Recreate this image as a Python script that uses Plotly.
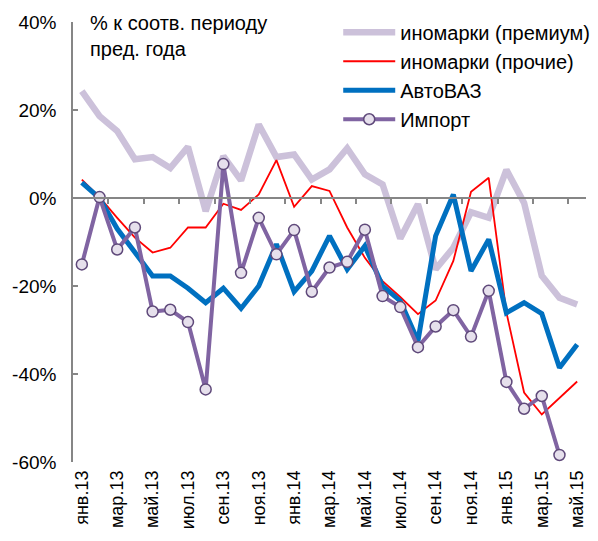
import plotly.graph_objects as go

# Monthly labels, Jan 2013 .. May 2015
months = [
    "янв.13", "фев.13", "мар.13", "апр.13", "май.13", "июн.13", "июл.13",
    "авг.13", "сен.13", "окт.13", "ноя.13", "дек.13",
    "янв.14", "фев.14", "мар.14", "апр.14", "май.14", "июн.14", "июл.14",
    "авг.14", "сен.14", "окт.14", "ноя.14", "дек.14",
    "янв.15", "фев.15", "мар.15", "апр.15", "май.15",
]

# % to the same period of previous year
premium = [24.3, 18.6, 15.2, 8.8, 9.3, 6.8, 11.6, -3.0, 9.5, 4.0, 16.7, 9.3,
           9.9, 4.2, 6.5, 11.3, 5.4, 3.1, -9.2, -1.4, -16.2, -11.3, -3.2,
           -4.5, 6.4, -1.1, -17.7, -22.7, -24.2]
other = [4.2, 0.2, -4.5, -9.0, -12.4, -11.3, -6.7, -6.7, -1.3, -2.7, 0.8, 8.6,
         -2.0, 2.7, 1.6, -6.7, -13.6, -18.9, -22.5, -26.4, -23.3, -14.3, 1.4,
         4.6, -26.0, -44.2, -49.2, -45.5, -41.7]
avtovaz = [3.5, 0.0, -7.0, -12.5, -17.7, -17.7, -20.5, -23.8, -20.5, -25.1,
           -20.0, -10.5, -21.3, -16.6, -8.6, -16.2, -10.9, -20.0, -23.4, -32.5,
           -8.6, 0.8, -16.6, -9.4, -26.1, -23.8, -26.3, -38.6, -33.3]
imports = [-15.1, 0.2, -11.7, -6.7, -25.8, -25.4, -28.2, -43.5, 7.7, -17.0,
           -4.5, -12.8, -7.3, -21.3, -15.8, -14.5, -7.2, -22.3, -24.8, -33.9,
           -29.2, -25.5, -31.5, -21.1, -41.8, -47.9, -45.0, -58.4, None]

y_ticks = [-60, -40, -20, 0, 20, 40]
y_labels = ["-60%", "-40%", "-20%", "0%", "20%", "40%"]

x = list(range(len(months)))
font = "Arial, Liberation Sans, sans-serif"
axis_grey = "#868686"

fig = go.Figure()
fig.add_trace(go.Scatter(
    x=x, y=premium, name="иномарки (премиум)", mode="lines",
    line=dict(color="#CCC1DA", width=6.5), legendgroup="a"))
fig.add_trace(go.Scatter(
    x=x, y=other, name="иномарки (прочие)", mode="lines",
    line=dict(color="#FF0000", width=1.8), legendgroup="b"))
fig.add_trace(go.Scatter(
    x=x, y=avtovaz, name="АвтоВАЗ", mode="lines",
    line=dict(color="#0070C0", width=5), legendgroup="c"))
fig.add_trace(go.Scatter(
    x=x, y=imports, name="Импорт", mode="lines+markers",
    line=dict(color="#8064A2", width=4),
    marker=dict(size=11, color="#E6E0EC",
                line=dict(color="#5F497A", width=1.5)),
    legendgroup="d"))

# the page body adds an 8px margin, so the figure is 8px smaller
fig.update_layout(
    width=590, height=533,
    margin=dict(l=65, r=3, t=14, b=79),
    paper_bgcolor="white", plot_bgcolor="white",
    font=dict(family=font, size=19, color="black"),
    showlegend=True,
    legend=dict(
        x=0.517, y=1.021, xanchor="left", yanchor="top",
        bgcolor="rgba(0,0,0,0)", traceorder="grouped", tracegroupgap=0,
        font=dict(size=20), itemwidth=52,
    ),
    xaxis=dict(
        range=[-0.5, 28.5], tickvals=x[::2], ticktext=months[::2],
        tickangle=-90, showline=False, showgrid=False, zeroline=False,
        ticks="", tickfont=dict(size=18), ticklabelstandoff=4,
    ),
    xaxis2=dict(
        overlaying="x", anchor="free", position=0.6, range=[-0.5, 28.5],
        tickvals=[i + 0.5 for i in x[1:-1:2]], showticklabels=False,
        ticks="outside", ticklen=5, tickcolor=axis_grey, tickwidth=1.5,
        showline=True, linecolor=axis_grey, linewidth=1.5,
        showgrid=False, zeroline=False,
    ),
    yaxis=dict(
        range=[-60, 40], tickvals=y_ticks, ticktext=y_labels,
        ticks="inside", ticklen=5, tickcolor=axis_grey, tickwidth=1.5,
        showline=True, linecolor=axis_grey, linewidth=1.5,
        showgrid=False, zeroline=False, ticklabelstandoff=11,
        tickfont=dict(size=19),
    ),
    annotations=[dict(
        text="% к соотв. периоду<br>пред. года",
        xref="paper", yref="paper", x=0.029, y=1.028,
        xanchor="left", yanchor="top", align="left", showarrow=False,
        font=dict(size=20),
    )],
)

# empty trace so the zero-line axis gets drawn
fig.add_trace(go.Scatter(x=[None], y=[None], xaxis="x2", showlegend=False,
                         hoverinfo="skip"))

fig.write_html("out.html")
